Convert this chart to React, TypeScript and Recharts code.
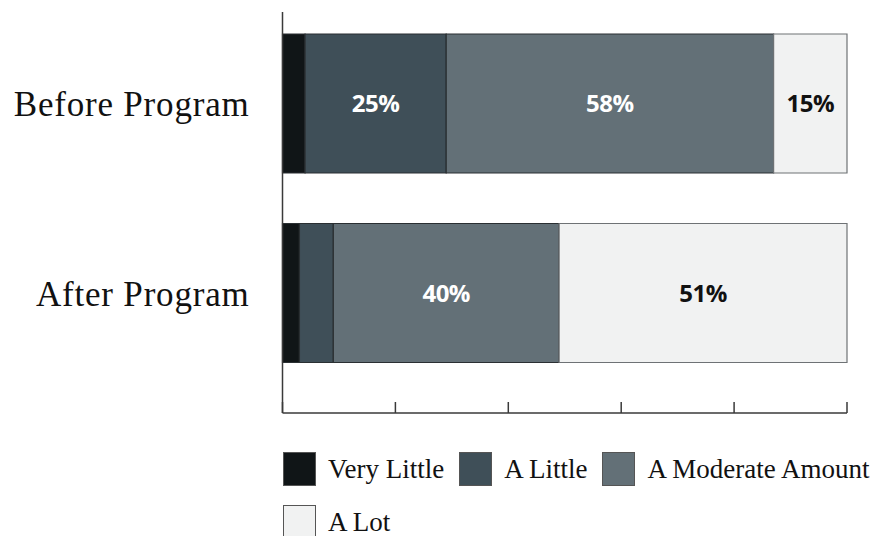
import { BarChart, Bar, XAxis, YAxis, Legend, LabelList } from 'recharts'

const categories = ['Before Program', 'After Program']
const veryLittle = [4, 3]
const aLittle = [25, 6]
const moderate = [58, 40]
const aLot = [13, 51]

// text printed on the segments (as shown in the picture)
const aLittleLabels = ['25%', '']
const moderateLabels = ['58%', '40%']
const aLotLabels = ['15%', '51%']

const xTicks = [0, 20, 40, 60, 80, 100]

const SERIES = [
  { key: 'veryLittle', name: 'Very Little', color: '#101517', label: '', text: '#fff' },
  { key: 'aLittle', name: 'A Little', color: '#3f4f58', label: 'aLittleLabel', text: '#fff' },
  { key: 'moderate', name: 'A Moderate Amount', color: '#637077', label: 'moderateLabel', text: '#fff' },
  { key: 'aLot', name: 'A Lot', color: '#f1f2f2', label: 'aLotLabel', text: '#111' },
]

const data = categories.map((name, i) => ({
  name,
  veryLittle: veryLittle[i],
  aLittle: aLittle[i],
  moderate: moderate[i],
  aLot: aLot[i],
  aLittleLabel: aLittleLabels[i],
  moderateLabel: moderateLabels[i],
  aLotLabel: aLotLabels[i],
}))

const SERIF = '"Liberation Serif", "DejaVu Serif", serif'

function LegendBox() {
  const rows = [SERIES.slice(0, 3), SERIES.slice(3)]
  return (
    <div style={{ width: 607, fontFamily: SERIF, fontSize: 27, color: '#111' }}>
      {rows.map((row, r) => (
        <div key={r} style={{ display: 'flex', whiteSpace: 'nowrap', marginBottom: 19 }}>
          {row.map((s) => (
            <div key={s.key} style={{ display: 'flex', alignItems: 'center', height: 34, marginRight: 15 }}>
              <span style={{ width: 33, height: 34, background: s.color, border: '1px solid #555', boxSizing: 'border-box', marginRight: 12 }} />
              <span style={{ lineHeight: '34px' }}>{s.name}</span>
            </div>
          ))}
        </div>
      ))}
    </div>
  )
}

// no tick text on the value axis, only the small inner tick marks
const NoTickText = () => <g />

export default function App() {
  return (
    <div style={{ position: 'absolute', left: 0, top: 0, width: 890, height: 536, background: '#fff', overflow: 'hidden' }}>
      <BarChart
        width={890}
        height={536}
        data={data}
        layout="vertical"
        margin={{ top: 12, right: 43, left: 0, bottom: 122 }}
      >
        <XAxis
          type="number"
          domain={[0, 100]}
          ticks={xTicks}
          tick={NoTickText}
          tickSize={-11}
          height={1}
          axisLine={{ stroke: '#3a3a3a', strokeWidth: 1.5 }}
          tickLine={{ stroke: '#3a3a3a', strokeWidth: 1.5 }}
        />
        <YAxis
          type="category"
          dataKey="name"
          width={282.5}
          padding={{ top: -3, bottom: 25 }}
          tickLine={false}
          tickSize={0}
          tickMargin={33}
          axisLine={{ stroke: '#3a3a3a', strokeWidth: 1.5 }}
          tick={{ fill: '#111', fontSize: 35, fontFamily: SERIF, letterSpacing: 0.8 }}
        />
        <Legend
          layout="horizontal"
          verticalAlign="middle"
          align="center"
          content={() => <LegendBox />}
          wrapperStyle={{ position: 'absolute', left: 283, top: 452, width: 607, height: 90 }}
        />
        {SERIES.map((s) => (
          <Bar
            key={s.key}
            dataKey={s.key}
            name={s.name}
            stackId="a"
            fill={s.color}
            stroke={s.key === 'aLot' ? '#6e7275' : '#2a2f32'}
            strokeWidth={1.2}
            barSize={139}
            isAnimationActive={false}
          >
            {s.label && (
              <LabelList
                dataKey={s.label}
                position="center"
                fill={s.text}
                fontSize={24}
                fontWeight={700}
                fontFamily='"Open Sans", sans-serif'
                letterSpacing={-0.5}
              />
            )}
          </Bar>
        ))}
      </BarChart>
    </div>
  )
}
